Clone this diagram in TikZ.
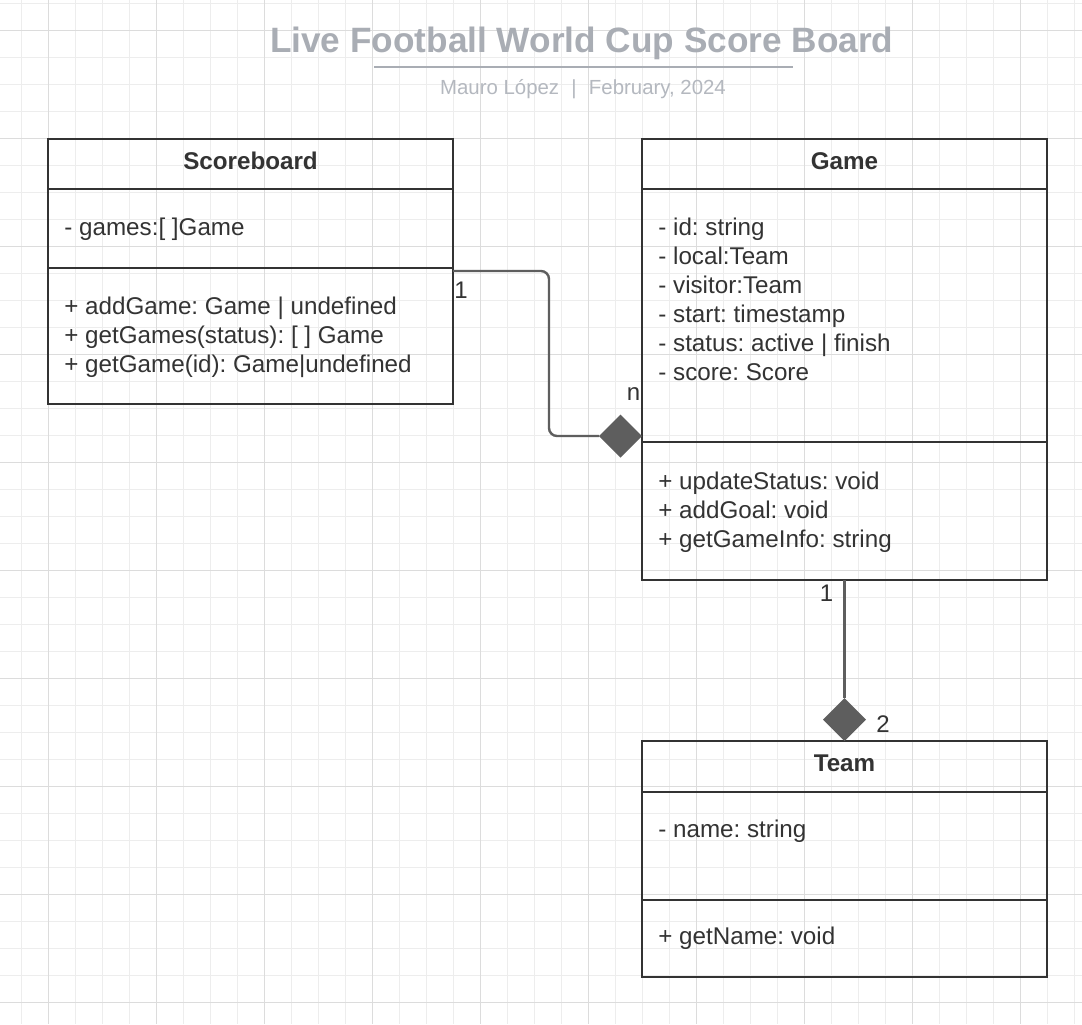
\documentclass[tikz,border=0pt]{standalone}
\usepackage{fontspec}
\setmainfont{Liberation Sans}
\usepackage{xcolor}
\usetikzlibrary{positioning,shapes.geometric}
\definecolor{umlline}{HTML}{333333}
\definecolor{umltext}{HTML}{333333}
\definecolor{connline}{HTML}{5E5E5E}
\definecolor{titlegray}{HTML}{A9ADB4}
\definecolor{subgray}{HTML}{B4B8BF}
\definecolor{gridminor}{HTML}{EDEDED}
\definecolor{gridmajor}{HTML}{DCDCDC}
\frenchspacing
\tikzset{%
	compart/.style = {draw=umlline, line width=1.4pt, minimum width=202.5pt, inner sep=0pt, outer sep=0pt, text depth=3pt, text=umltext, font=\fontsize{12.1}{14.5}\selectfont\bfseries},
	member/.style  = {anchor=base west, align=left, inner sep=0pt, text=umltext, font=\fontsize{12.1}{14.5}\selectfont},
	mult/.style    = {anchor=base, inner sep=0pt, text=umltext, font=\fontsize{12}{14}\selectfont},
	aggr/.style    = {fill=connline, diamond, aspect=1, minimum width=21.5pt, minimum height=21.5pt, inner sep=0pt, outer sep=0pt},
	conn/.style    = {draw=connline, line width=1.2pt, rounded corners=4pt},
}

\begin{document}
\begin{tikzpicture}[x=0.5pt,y=-0.5pt]
		\useasboundingbox (0,0) rectangle (1082,1024);
		\fill[white] (0,0) rectangle (1082,1024);
		
		% grid
		\foreach \k in {0,...,39} \draw[gridminor,line width=0.5pt] ({21.7+27*\k},0) -- ({21.7+27*\k},1024);
		\foreach \k in {0,...,37} \draw[gridminor,line width=0.5pt] (0,{3.3+27*\k}) -- (1082,{3.3+27*\k});
		\foreach \k in {0,...,9} \draw[gridmajor,line width=0.6pt] ({48.7+108*\k},0) -- ({48.7+108*\k},1024);
		\foreach \k in {0,...,9} \draw[gridmajor,line width=0.6pt] (0,{30.3+108*\k}) -- (1082,{30.3+108*\k});
		
		% title
		\node[anchor=base,text=titlegray,font=\fontsize{17.6}{20}\selectfont\bfseries] (title) at (581.7,52.7) {Live Football World Cup Score Board};
		\draw[titlegray,line width=1pt] (374,66.7) -- (793,66.7);
		\node[anchor=base,text=subgray,font=\fontsize{10.2}{12}\selectfont] (author) at (583,94.3) {Mauro López\hspace{0.6em}|\hspace{0.6em}February, 2024};
		
		% Scoreboard
		\node[compart,anchor=north west,minimum height=25pt] (sbName) at (48,139) {Scoreboard};
		\node[compart,minimum height=39.5pt,below=0pt of sbName] (sbAttr) {};
		\node[compart,minimum height=68pt,below=0pt of sbAttr] (sbOps) {};
		\node[member] (sbAttrTxt) at (64,235.7) {- games:[ ]Game};
		\node[member] (sbOpsTxt) at (64,372) {+ addGame: Game | undefined\\+ getGames(status): [ ] Game\\+ getGame(id): Game|undefined};
		
		% Game
		\node[compart,anchor=north west,minimum height=25pt] (gmName) at (642,139) {Game};
		\node[compart,minimum height=126.5pt,below=0pt of gmName] (gmAttr) {};
		\node[compart,minimum height=69pt,below=0pt of gmAttr] (gmOps) {};
		\node[member] (gmAttrTxt) at (658,380) {- id: string\\- local:Team\\- visitor:Team\\- start: timestamp\\- status: active | finish\\- score: Score};
		\node[member] (gmOpsTxt) at (658,547) {+ updateStatus: void\\+ addGoal: void\\+ getGameInfo: string};
		
		% Team
		\node[compart,anchor=north west,minimum height=25.5pt] (tmName) at (642,741) {Team};
		\node[compart,minimum height=54pt,below=0pt of tmName] (tmAttr) {};
		\node[compart,minimum height=38.5pt,below=0pt of tmAttr] (tmOps) {};
		\node[member] (tmAttrTxt) at (658,837.3) {- name: string};
		\node[member] (tmOpsTxt) at (658,944) {+ getName: void};
		
		% aggregations
		\node[aggr,anchor=east] (gmAggr) at ([yshift=3pt]gmAttr.south west) {};
		\node[aggr,anchor=south] (tmAggr) at (tmName.north) {};
		\draw[conn] ([yshift=-1.5pt]sbOps.north east) -| ([xshift=-25pt]gmAggr.west) -- (gmAggr.west);
		\draw[conn] (gmOps.south) -- (tmAggr.north);
		
		\node[mult] (sbMult) at (461,298) {1};
		\node[mult] (gmMult) at (633.5,400) {n};
		\node[mult] (gmMultB) at (826.5,601) {1};
		\node[mult] (tmMult) at (883,732) {2};
\end{tikzpicture}
\end{document}
